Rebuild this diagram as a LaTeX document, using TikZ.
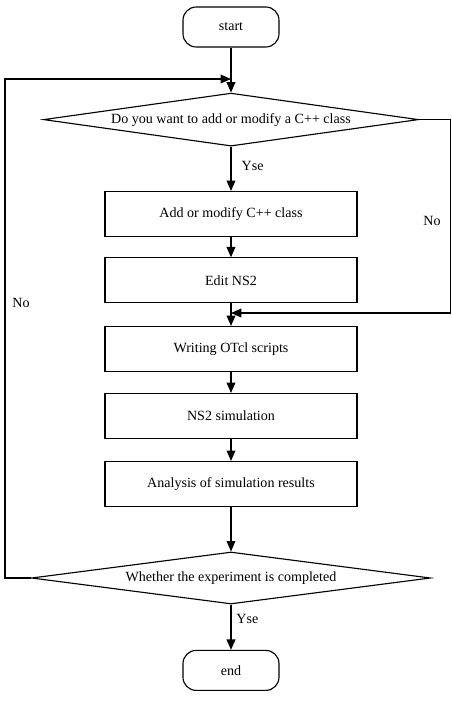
\documentclass[tikz,border=0pt]{standalone}
\usepackage{fontspec}
\setmainfont{Liberation Serif}
\usetikzlibrary{shapes.geometric, arrows.meta}

\begin{document}
\begin{tikzpicture}[>={Triangle[length=2.6mm,width=2.2mm]}, line width=0.8pt,
  term/.style={draw, rounded corners=3.3mm, minimum width=2.4cm,
               minimum height=1cm, align=center},
  box/.style={draw, minimum width=6.3cm, minimum height=1.125cm,
              inner sep=2pt, align=center},
  decision/.style={draw, diamond, aspect=7, inner sep=0pt, align=center},
  lbl/.style={inner sep=1pt}]

  \useasboundingbox (-5.775,0) rectangle (5.525,-17.75);

  % Inicio
  \node[term] (start) at (0,-0.675) {start};

  % Primera decision
  \node[decision, minimum width=9.375cm, minimum height=1.325cm] (dec1)
        at (0,-2.99) {Do you want to add or modify a C++ class};

  % Pasos
  \node[box] (add)   at (0,-5.35)  {Add or modify C++ class};
  \node[box] (edit)  at (0,-7.01)  {Edit NS2};
  \node[box] (otcl)  at (0,-8.725) {Writing OTcl scripts};
  \node[box] (sim)   at (0,-10.4)  {NS2 simulation};
  \node[box] (anal)  at (0,-12.1)  {Analysis of simulation results};

  % Segunda decision
  \node[decision, minimum width=9.975cm, minimum height=1.3cm] (dec2)
        at (0,-14.45) {Whether the experiment is completed};

  % Fin
  \node[term] (end) at (0,-16.76) {end};

  % Puntos de union y esquinas
  \coordinate (join1) at (0,-1.975);
  \coordinate (join2) at (0,-7.825);
  \coordinate (turn1) at (5.49,-2.99);
  \coordinate (turn2) at (-5.65,-14.45);

  % Flechas
  \draw[->] (start.south) -- (dec1.north);
  \draw[->] (dec1.south) -- (add.north);
  \draw[->] (add.south)  -- (edit.north);
  \draw[->] (edit.south) -- (otcl.north);
  \draw[->] (otcl.south) -- (sim.north);
  \draw[->] (sim.south)  -- (anal.north);
  \draw[->] (anal.south) -- (dec2.north);
  \draw[->] (dec2.south) -- (end.north);

  % Retornos
  \draw[->] (dec1.east) -- (turn1) |- (join2);
  \draw[->] (dec2.west) -- (turn2) |- (join1);

  % Etiquetas
  \node[lbl] (yes1) at (0.54,-4.15)   {Yse};
  \node[lbl] (yes2) at (0.41,-15.475) {Yse};
  \node[lbl] (no1)  at (5.025,-5.525) {No};
  \node[lbl] (no2)  at (-5.25,-7.575) {No};
\end{tikzpicture}
\end{document}
